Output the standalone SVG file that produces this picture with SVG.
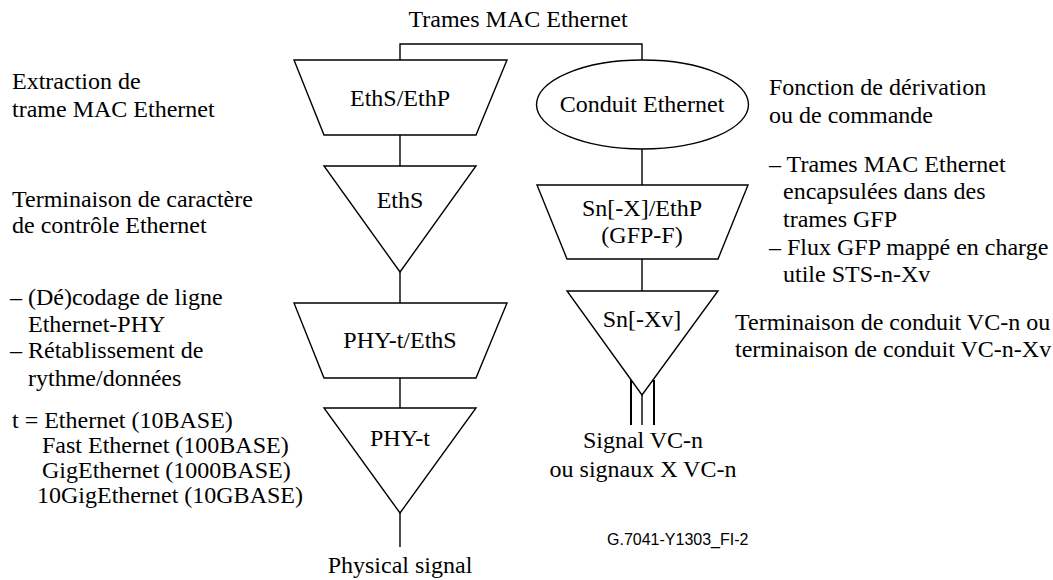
<svg xmlns="http://www.w3.org/2000/svg" width="1053" height="580" viewBox="0 0 1053 580">
<style>
.s{fill:#fff;stroke:#000;stroke-width:1.4}
.l{fill:none;stroke:#000;stroke-width:1.4}
.t{font-family:"Liberation Serif","Times New Roman",serif;font-size:24px;fill:#000}
.c{text-anchor:middle}
.f{font-family:"Liberation Sans",Arial,sans-serif;font-size:16px;fill:#000}
</style>
<rect width="1053" height="580" fill="#fff"/>
<g id="connectors">
<polyline class="l" points="400,60 400,44 642,44 642,60"/>
<line class="l" x1="400" y1="135" x2="400" y2="166"/>
<line class="l" x1="400" y1="272" x2="400" y2="303"/>
<line class="l" x1="400" y1="378" x2="400" y2="408"/>
<line class="l" x1="400" y1="513" x2="400" y2="547"/>
<line class="l" x1="642" y1="149" x2="642" y2="185"/>
<line class="l" x1="642" y1="259" x2="642" y2="291"/>
<line class="l" x1="642" y1="395" x2="642" y2="425"/>
<line stroke="#000" stroke-width="2" x1="631" y1="380" x2="631" y2="425"/>
<line stroke="#000" stroke-width="2" x1="654" y1="380" x2="654" y2="425"/>
</g>
<g id="ethsethp">
<polygon class="s" points="294,60 507,60 476,135 324,135"/>
<text class="t c" x="400" y="106">EthS/EthP</text>
</g>
<g id="eths">
<polygon class="s" points="324,166 476,166 400,272"/>
<text class="t c" x="400" y="208">EthS</text>
</g>
<g id="phyeths">
<polygon class="s" points="294,303 507,303 476,378 324,378"/>
<text class="t c" x="400" y="348">PHY-t/EthS</text>
</g>
<g id="phyt">
<polygon class="s" points="324,408 476,408 400,513"/>
<text class="t c" x="400" y="446">PHY-t</text>
</g>
<g id="conduit">
<ellipse class="s" cx="642.5" cy="104.5" rx="106" ry="44.5"/>
<text class="t c" x="642" y="112">Conduit Ethernet</text>
</g>
<g id="snethp">
<polygon class="s" points="537,185 748,185 718,259 567,259"/>
<text class="t c" x="642" y="216">Sn[-X]/EthP</text>
<text class="t c" x="642" y="243">(GFP-F)</text>
</g>
<g id="snxv">
<polygon class="s" points="567,291 718,291 642,395"/>
<text class="t c" x="642" y="327">Sn[-Xv]</text>
</g>
<g id="labels">
<text class="t c" x="518" y="27">Trames MAC Ethernet</text>
<text class="t c" x="400" y="573">Physical signal</text>
<text class="t c" x="643" y="448">Signal VC-n</text>
<text class="t c" x="643" y="477">ou signaux X VC-n</text>
<text class="f" x="607" y="545">G.7041-Y1303_FI-2</text>
<text class="t" x="12" y="89">Extraction de</text>
<text class="t" x="12" y="117">trame MAC Ethernet</text>
<text class="t" x="12" y="207">Terminaison de caractère</text>
<text class="t" x="12" y="233">de contrôle Ethernet</text>
<text class="t" x="10" y="305">– (Dé)codage de ligne</text>
<text class="t" x="28" y="332">Ethernet-PHY</text>
<text class="t" x="10" y="358">– Rétablissement de</text>
<text class="t" x="28" y="386">rythme/données</text>
<text class="t" x="12" y="428">t = Ethernet (10BASE)</text>
<text class="t" x="42" y="453">Fast Ethernet (100BASE)</text>
<text class="t" x="42" y="478">GigEthernet (1000BASE)</text>
<text class="t" x="37" y="503">10GigEthernet (10GBASE)</text>
<text class="t" x="769" y="95">Fonction de dérivation</text>
<text class="t" x="769" y="123">ou de commande</text>
<text class="t" x="769" y="172">– Trames MAC Ethernet</text>
<text class="t" x="783" y="199">encapsulées dans des</text>
<text class="t" x="783" y="227">trames GFP</text>
<text class="t" x="769" y="255">– Flux GFP mappé en charge</text>
<text class="t" x="783" y="282">utile STS-n-Xv</text>
<text class="t" x="735" y="330">Terminaison de conduit VC-n ou</text>
<text class="t" x="735" y="357">terminaison de conduit VC-n-Xv</text>
</g>
</svg>
